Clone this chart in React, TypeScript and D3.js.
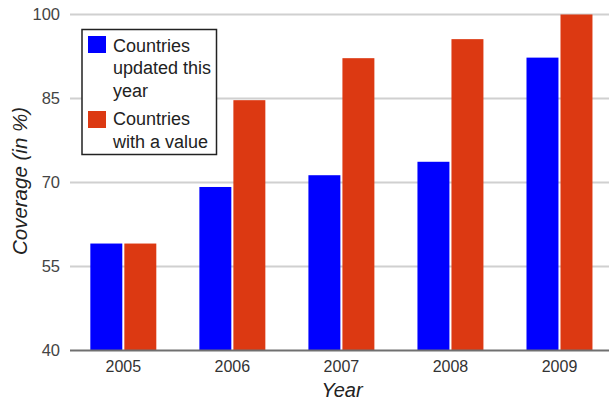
import React from "react";
import * as d3 from "d3";

const years = ["2005", "2006", "2007", "2008", "2009"];
const updatedThisYear = [59.1, 69.2, 71.3, 73.7, 92.3];
const withAValue = [59.1, 84.7, 92.2, 95.6, 100];
const yTicks = [40, 55, 70, 85, 100];
const seriesNames = ["Countries updated this year", "Countries with a value"];
const seriesColors = ["#0000ff", "#dc3912"];

const W = 609;
const H = 402;
const FONT = "'Liberation Sans', Arial, sans-serif";

export default function App() {
  const y = d3.scaleLinear().domain([40, 100]).range([350.5, 14.5]);
  const x0 = d3.scaleBand<string>().domain(years).range([68.8, 614]).paddingInner(0.395).paddingOuter(0.1975);
  const x1 = d3.scaleBand<number>().domain([0, 1]).range([0, x0.bandwidth()]).paddingInner(0.06);
  const series = [updatedThisYear, withAValue];

  const legendLines = [
    ["Countries", "updated this", "year"],
    ["Countries", "with a value"],
  ];

  return (
    <svg width={W} height={H} style={{ position: "absolute", left: 0, top: 0, background: "#fff" }}>
      <rect x={0} y={0} width={W} height={H} fill="#fff" />
      {yTicks.slice(1).map((t) => (
        <line key={t} x1={70} x2={W} y1={y(t)} y2={y(t)} stroke="#d0d0d0" strokeWidth={2} />
      ))}
      {yTicks.map((t) => (
        <text key={"l" + t} x={60} y={y(t) + 5} textAnchor="end" fontFamily={FONT} fontSize={16.5} fill="#444">
          {t}
        </text>
      ))}
      {years.map((yr, i) => (
        <g key={yr} transform={`translate(${x0(yr)},0)`}>
          {series.map((s, j) => (
            <rect
              key={j}
              x={x1(j)}
              y={y(s[i])}
              width={x1.bandwidth()}
              height={y(40) - y(s[i])}
              fill={seriesColors[j]}
            />
          ))}
          <text x={x0.bandwidth() / 2} y={371.5} textAnchor="middle" fontFamily={FONT} fontSize={16} fill="#333">
            {yr}
          </text>
        </g>
      ))}
      <line x1={70} x2={W} y1={y(40)} y2={y(40)} stroke="#707070" strokeWidth={2} />
      <text x={342} y={397} textAnchor="middle" fontFamily={FONT} fontSize={20} fontStyle="italic" fill="#222">
        Year
      </text>
      <text
        transform={`translate(27,181) rotate(-90)`}
        textAnchor="middle"
        fontFamily={FONT}
        fontSize={20.5}
        fontStyle="italic"
        fill="#222"
      >
        Coverage (in %)
      </text>
      <g>
        <rect x={82} y={29.5} width={134.5} height={125} fill="#fff" stroke="#222" strokeWidth={1.5} />
        {seriesNames.map((name, j) => {
          const top = j === 0 ? 36 : 111;
          const base = j === 0 ? 51.7 : 125.3;
          return (
            <g key={name}>
              <rect x={88} y={top} width={18} height={17} fill={seriesColors[j]} />
              {legendLines[j].map((ln, k) => (
                <text key={k} x={113} y={base + k * 22.7} fontFamily={FONT} fontSize={18} fill="#222">
                  {ln}
                </text>
              ))}
            </g>
          );
        })}
      </g>
    </svg>
  );
}
